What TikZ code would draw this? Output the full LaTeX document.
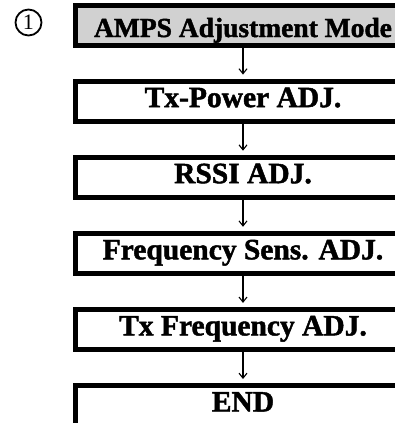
\documentclass[tikz,border=0pt]{standalone}
\usepackage{fontspec}
\setmainfont{Liberation Serif}[BoldFeatures={FakeBold=1.6}]
\usetikzlibrary{arrows.meta}

\begin{document}
\begin{tikzpicture}[x=1pt, y=1pt,
	stepbox/.style={draw, line width=5pt, minimum width=335pt, minimum height=40pt, inner sep=0pt,
		font=\fontsize{29.5}{29.5}\selectfont\bfseries, text height=21pt, text depth=9pt},
	flow/.style={-{Straight Barb[length=5pt, width=8pt]}, line width=1.1pt, shorten >=4pt}]
	\useasboundingbox (0,0) rectangle (395,-423);
	
	\node [circle, draw, line width=1.8pt, minimum size=26pt, inner sep=0pt, font=\fontsize{22}{22}\selectfont] (num) at (28.5,-22.5) {1};
	
	\node [stepbox, fill=black!18, font=\fontsize{27.5}{27.5}\selectfont\bfseries, text height=26pt, text depth=2pt] (mode) at (243,-25) {AMPS Adjustment Mode};
	\node [stepbox] (txpow) at (243,-101.1) {Tx-Power ADJ.};
	\node [stepbox] (rssi) at (243,-177.2) {RSSI ADJ.};
	\node [stepbox] (sens) at (243,-253.3) {Frequency Sens. ADJ.};
	\node [stepbox] (txfreq) at (243,-329.4) {Tx Frequency ADJ.};
	\node [stepbox] (end) at (243,-405.5) {END};
	
	\draw [flow] (mode.south) -- (txpow.north);
	\draw [flow] (txpow.south) -- (rssi.north);
	\draw [flow] (rssi.south) -- (sens.north);
	\draw [flow] (sens.south) -- (txfreq.north);
	\draw [flow] (txfreq.south) -- (end.north);
\end{tikzpicture}
\end{document}
